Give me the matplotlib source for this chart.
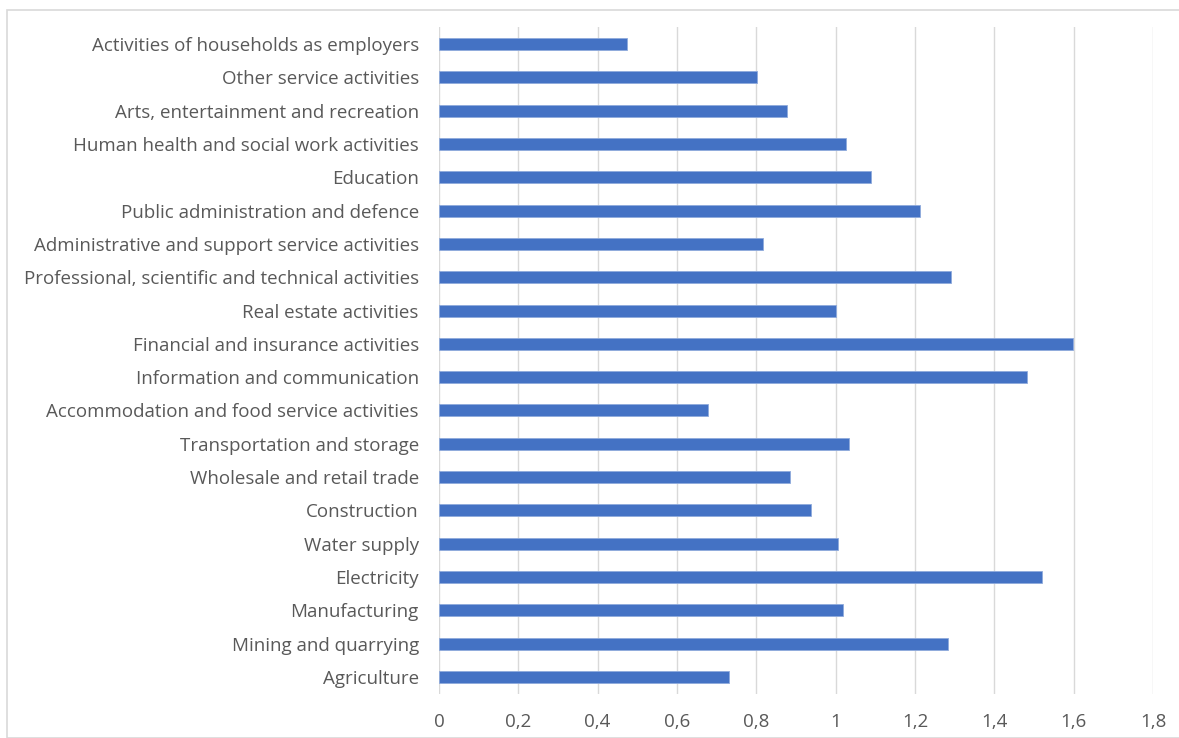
import matplotlib
matplotlib.use("Agg")
import matplotlib.pyplot as plt
from matplotlib.patches import Rectangle
from matplotlib.ticker import FuncFormatter

categories = [
    "Agriculture",
    "Mining and quarrying",
    "Manufacturing",
    "Electricity",
    "Water supply",
    "Construction",
    "Wholesale and retail trade",
    "Transportation and storage",
    "Accommodation and food service activities",
    "Information and communication",
    "Financial and insurance activities",
    "Real estate activities",
    "Professional, scientific and technical activities",
    "Administrative and support service activities",
    "Public administration and defence",
    "Education",
    "Human health and social work activities",
    "Arts, entertainment and recreation",
    "Other service activities",
    "Activities of households as employers",
]
values = [0.730, 1.282, 1.019, 1.520, 1.006, 0.939, 0.884, 1.034, 0.677, 1.483,
          1.598, 1.002, 1.292, 0.818, 1.213, 1.088, 1.025, 0.878, 0.802, 0.475]
xticks = [0, 0.2, 0.4, 0.6, 0.8, 1.0, 1.2, 1.4, 1.6, 1.8]

plt.rcParams['font.family'] = ['Open Sans', 'DejaVu Sans']

W, H = 1179, 738
fig = plt.figure(figsize=(W / 100, H / 100), dpi=100)
fig.patches.append(Rectangle((7 / W, 0), 1.2, 1 - 10 / H, transform=fig.transFigure,
                             fill=False, edgecolor='#d9d9d9', linewidth=1.2))

ax = fig.add_axes([439 / W, 1 - 693.7 / H, (1153 - 439) / W, (693.7 - 27.3) / H])
ax.barh(range(len(categories)), values, height=0.36, color='#4472C4',
        edgecolor='#8faadc', linewidth=0.6, zorder=3)
ax.set_xlim(0, 1.8)
ax.set_ylim(-0.5, len(categories) - 0.5)
ax.set_yticks(range(len(categories)))
ax.set_yticklabels(categories)
ax.set_xticks(xticks)
ax.xaxis.set_major_formatter(FuncFormatter(lambda v, p: ('%g' % round(v, 1)).replace('.', ',')))
ax.grid(axis='x', color='#d9d9d9', linewidth=1.0, zorder=0)
for s in ax.spines.values():
    s.set_visible(False)
ax.tick_params(axis='both', length=0, labelsize=13.5, labelcolor='#595959')
ax.tick_params(axis='y', pad=14.5)
ax.tick_params(axis='x', pad=14)

fig.savefig("out.png", dpi=100)
